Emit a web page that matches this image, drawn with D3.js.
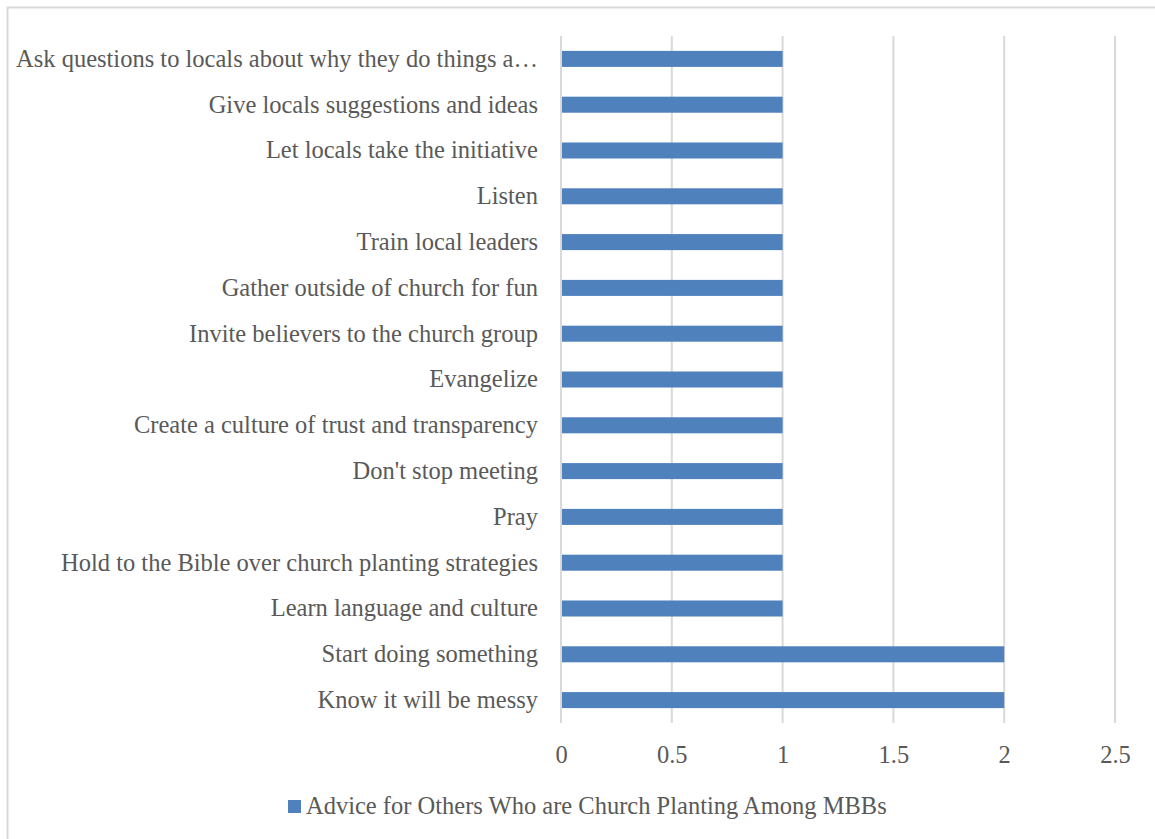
<!DOCTYPE html>
<html>
<head>
<meta charset="utf-8">
<script src="https://cdn.jsdelivr.net/npm/d3@7"></script>
<style>
  html, body { margin: 0; padding: 0; background: #fff; }
  svg text { font-family: "Liberation Serif", "DejaVu Serif", serif; fill: #595959; }
</style>
</head>
<body>
<svg id="chart" width="1155" height="839"></svg>
<script>
// Advice categories, listed top to bottom
const categories = [
  "Ask questions to locals about why they do things a…",
  "Give locals suggestions and ideas",
  "Let locals take the initiative",
  "Listen",
  "Train local leaders",
  "Gather outside of church for fun",
  "Invite believers to the church group",
  "Evangelize",
  "Create a culture of trust and transparency",
  "Don't stop meeting",
  "Pray",
  "Hold to the Bible over church planting strategies",
  "Learn language and culture",
  "Start doing something",
  "Know it will be messy"
];
const values = [1, 1, 1, 1, 1, 1, 1, 1, 1, 1, 1, 1, 1, 2, 2];
const xTicks = [0, 0.5, 1, 1.5, 2, 2.5];
const seriesName = "Advice for Others Who are Church Planting Among MBBs";

const svg = d3.select("#chart");
const W = 1155, H = 839;
const fontSize = 24.5;

// outer chart frame (top and left edges visible)
svg.append("path")
  .attr("d", `M7.5,${H} V7.5 H${W}`)
  .attr("fill", "none").attr("stroke", "#d9d9d9").attr("stroke-width", 2);

const plot = { left: 561, right: 1115, top: 36, bottom: 723 };

const x = d3.scaleLinear().domain([0, 2.5]).range([plot.left, plot.right]);
const y = d3.scaleBand().domain(categories).range([plot.top, plot.bottom]).paddingInner(0.65).paddingOuter(0.325);

// vertical gridlines
svg.append("g").selectAll("line").data(xTicks).join("line")
  .attr("x1", d => x(d)).attr("x2", d => x(d))
  .attr("y1", plot.top).attr("y2", plot.bottom)
  .attr("stroke", "#d9d9d9").attr("stroke-width", 2);

// bars
svg.append("g").selectAll("rect").data(values).join("rect")
  .attr("x", x(0) + 1)
  .attr("y", (d, i) => y(categories[i]))
  .attr("width", d => x(d) - x(0) - 1)
  .attr("height", y.bandwidth())
  .attr("fill", "#4f81bd");

// x tick labels
const xAxis = d3.axisBottom(x).tickValues(xTicks).tickFormat(d3.format("")).tickSize(0).tickPadding(0);
const gx = svg.append("g").attr("transform", `translate(0,${plot.bottom + 40})`).call(xAxis);
gx.select(".domain").remove();
gx.selectAll("text").attr("font-size", fontSize).attr("dy", 0).attr("fill", "#595959")
  .style("font-family", '"Liberation Serif", serif');

// category labels
const yAxis = d3.axisLeft(y).tickSize(0).tickPadding(23);
const gy = svg.append("g").attr("transform", `translate(${plot.left},0)`).call(yAxis);
gy.select(".domain").remove();
gy.selectAll("text").attr("font-size", fontSize).attr("fill", "#595959")
  .style("font-family", '"Liberation Serif", serif');

// legend
const lg = svg.append("g").attr("transform", "translate(288,800)");
lg.append("rect").attr("width", 13).attr("height", 13).attr("fill", "#4f81bd");
lg.append("text").attr("x", 18).attr("y", 14).attr("font-size", fontSize).text(seriesName);
</script>
</body>
</html>
